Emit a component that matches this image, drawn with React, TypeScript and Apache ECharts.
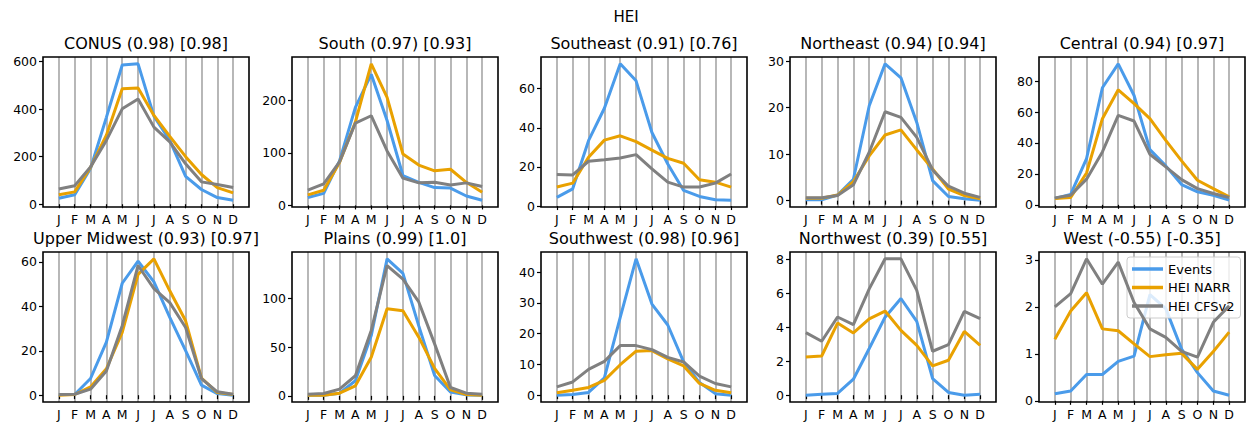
import React, { useEffect, useRef } from "react";
import * as echarts from "echarts";

const MONTHS = ["J", "F", "M", "A", "M", "J", "J", "A", "S", "O", "N", "D"];
const TITLES = [
  "CONUS (0.98) [0.98]",
  "South (0.97) [0.93]",
  "Southeast (0.91) [0.76]",
  "Northeast (0.94) [0.94]",
  "Central (0.94) [0.97]",
  "Upper Midwest (0.93) [0.97]",
  "Plains (0.99) [1.0]",
  "Southwest (0.98) [0.96]",
  "Northwest (0.39) [0.55]",
  "West (-0.55) [-0.35]",
];
const SERIES_NAMES = ["Events", "HEI NARR", "HEI CFSv2"];
const COLORS = ["#4a9bea", "#e9a100", "#808080"];

const conusEvents = [25, 40, 150, 365, 585, 590, 370, 268, 117, 62, 28, 17];
const conusNarr = [40, 52, 155, 290, 485, 488, 373, 285, 200, 125, 70, 48];
const conusCfs = [64, 78, 157, 268, 401, 442, 324, 262, 170, 94, 83, 70];

const southEvents = [15, 23, 85, 187, 250, 162, 57, 44, 34, 33, 18, 10];
const southNarr = [20, 29, 82, 159, 270, 206, 98, 77, 66, 69, 44, 25];
const southCfs = [29, 41, 83, 157, 171, 104, 52, 43, 44, 39, 43, 36];

const southeastEvents = [4.4, 8.8, 33.4, 50, 72.7, 64, 37.6, 21.5, 8, 4.9, 3.2, 3];
const southeastNarr = [9.7, 11.7, 24.9, 33.7, 35.9, 32.9, 28.6, 24.4, 21.9, 13.4, 12.2, 9.7];
const southeastCfs = [16.1, 15.9, 22.9, 23.7, 24.6, 26.3, 19, 12.2, 9.7, 9.7, 11.7, 16.4];

const northeastEvents = [0.2, 0.2, 1.2, 4.6, 20.4, 29.4, 26.4, 16.8, 4.3, 0.9, 0.4, 0.1];
const northeastNarr = [0.5, 0.5, 1.2, 4.1, 9.6, 14.1, 15.2, 10.9, 6.8, 2.5, 1.1, 0.4];
const northeastCfs = [0.6, 0.6, 1.1, 3.4, 10.4, 19.1, 17.9, 13.6, 6.6, 3.1, 1.6, 0.7];

const centralEvents = [4.1, 6.7, 29.9, 75.7, 91.2, 70.7, 35.7, 25.2, 13.1, 8.4, 6.2, 3];
const centralNarr = [4.1, 4.7, 20.6, 55.7, 74.4, 65.4, 55.7, 41.7, 28.4, 15.9, 10.5, 5.2];
const centralCfs = [4.5, 6.2, 16.6, 34.2, 57.8, 54.2, 32.7, 24.5, 16.3, 10.5, 7.3, 4.7];

const upperMidwestEvents = [0.3, 0.3, 7.5, 23.9, 50.4, 60.4, 51, 35, 20.1, 4.5, 0.7, 0];
const upperMidwestNarr = [0, 0.3, 3.7, 11.9, 28.3, 54.4, 61.4, 47, 33.5, 7.7, 1.2, 0.3];
const upperMidwestCfs = [0.3, 0.4, 2.7, 10.9, 31.3, 58.4, 48, 41.7, 30.5, 7.5, 1.5, 0.4];

const plainsEvents = [0.7, 0.7, 2.8, 15.5, 62, 141, 126, 72, 21, 4, 1, 0.7];
const plainsNarr = [0.7, 0.7, 2.8, 10.3, 39.7, 89.7, 87.6, 60.4, 28.3, 6.2, 1.4, 0.7];
const plainsCfs = [1.7, 2.4, 6.9, 20.7, 67.3, 133.9, 120, 96.6, 53.5, 8.6, 2.8, 1.7];

const southwestEvents = [0, 0.2, 0.9, 5.6, 25.3, 44.3, 29.6, 22.8, 10.8, 4.1, 0.5, 0];
const southwestNarr = [0.8, 1.6, 2.5, 4.8, 9.9, 14.3, 14.5, 11.8, 9.5, 3.8, 1.6, 0.8];
const southwestCfs = [2.7, 4.3, 8.4, 11, 16.1, 16.1, 14.8, 12.3, 10.8, 6.2, 3.8, 2.7];

const northwestEvents = [0, 0.06, 0.1, 0.94, 2.75, 4.6, 5.7, 4.35, 0.98, 0.16, 0, 0.06];
const northwestNarr = [2.25, 2.31, 4.25, 3.67, 4.5, 4.96, 3.82, 2.94, 1.73, 2.06, 3.76, 2.94];
const northwestCfs = [3.69, 3.18, 4.61, 4.16, 6.27, 8.04, 8.04, 6.18, 2.59, 2.98, 4.94, 4.51];

const westEvents = [0.15, 0.21, 0.56, 0.56, 0.84, 0.95, 2.26, 1.96, 1.1, 0.6, 0.21, 0.12];
const westNarr = [1.31, 1.91, 2.3, 1.53, 1.49, 1.21, 0.94, 0.98, 1.01, 0.67, 1.05, 1.46];
const westCfs = [2.0, 2.28, 3.02, 2.48, 2.95, 2.09, 1.53, 1.35, 1.05, 0.93, 1.67, 2.02];

const Y_TICKS = [
  [0, 200, 400, 600],
  [0, 100, 200],
  [0, 20, 40, 60],
  [0, 10, 20, 30],
  [0, 20, 40, 60, 80],
  [0, 20, 40, 60],
  [0, 50, 100],
  [0, 10, 20, 30, 40],
  [0, 2, 4, 6, 8],
  [0, 1, 2, 3],
];

const PANELS = [
  [conusEvents, conusNarr, conusCfs],
  [southEvents, southNarr, southCfs],
  [southeastEvents, southeastNarr, southeastCfs],
  [northeastEvents, northeastNarr, northeastCfs],
  [centralEvents, centralNarr, centralCfs],
  [upperMidwestEvents, upperMidwestNarr, upperMidwestCfs],
  [plainsEvents, plainsNarr, plainsCfs],
  [southwestEvents, southwestNarr, southwestCfs],
  [northwestEvents, northwestNarr, northwestCfs],
  [westEvents, westNarr, westCfs],
];

const FONT = "DejaVu Sans";
const COL_LEFTS = [43, 292, 541, 790, 1039];
const ROW_TOPS = [57, 252];
const PW = 206;
const PH = 150;

export default function App() {
  const ref = useRef<HTMLDivElement>(null);
  useEffect(() => {
    document.body.style.margin = "0";
    const chart = echarts.init(ref.current!, null, { renderer: "svg" });
    const grids: any[] = [];
    const xAxes: any[] = [];
    const yAxes: any[] = [];
    const series: any[] = [];
    const graphics: any[] = [];
    PANELS.forEach((panel, i) => {
      const col = i % 5;
      const row = Math.floor(i / 5);
      const left = COL_LEFTS[col];
      const top = ROW_TOPS[row];
      grids.push({
        left,
        top,
        width: PW,
        height: PH,
        show: true,
        borderColor: "#000",
        borderWidth: 1.6,
        backgroundColor: "transparent",
        z: 3,
      });
      const all = panel.flat();
      const dmin = Math.min(...all);
      const dmax = Math.max(...all);
      const pad = (dmax - dmin) * 0.05;
      xAxes.push({
        type: "value",
        gridIndex: i,
        min: 0,
        max: 13,
        interval: 1,
        axisLine: { show: false },
        axisTick: {
          show: true,
          length: 4,
          customValues: [1, 2, 3, 4, 5, 6, 7, 8, 9, 10, 11, 12],
          lineStyle: { color: "#000", width: 1.2 },
        },
        axisLabel: {
          show: true,
          customValues: [1, 2, 3, 4, 5, 6, 7, 8, 9, 10, 11, 12],
          formatter: (v: number) => MONTHS[v - 1] ?? "",
          fontFamily: FONT,
          fontSize: 12.5,
          color: "#000",
          margin: 6,
        },
        splitLine: { show: true, lineStyle: { color: "#b0b0b0", width: 1.8 } },
      });
      yAxes.push({
        type: "value",
        gridIndex: i,
        min: dmin - pad,
        max: dmax + pad,
        axisLine: { show: false },
        axisTick: {
          show: true,
          length: 4,
          customValues: Y_TICKS[i],
          lineStyle: { color: "#000", width: 1.2 },
        },
        axisLabel: {
          show: true,
          customValues: Y_TICKS[i],
          fontFamily: FONT,
          fontSize: 12.5,
          color: "#000",
          margin: 6,
        },
        splitLine: { show: false },
      });
      panel.forEach((vals, k) => {
        series.push({
          type: "line",
          name: SERIES_NAMES[k],
          xAxisIndex: i,
          yAxisIndex: i,
          data: vals.map((v, m) => [m + 1, v]),
          symbol: "none",
          lineStyle: { color: COLORS[k], width: 3 },
          itemStyle: { color: COLORS[k] },
          z: 2 + k,
        });
      });
      graphics.push({
        type: "text",
        x: left + PW / 2,
        y: top - 14,
        style: {
          text: TITLES[i],
          fontFamily: FONT,
          fontSize: 16,
          fill: "#000",
          align: "center",
          verticalAlign: "middle",
        },
      });
    });
    graphics.push({
      type: "text",
      x: 626,
      y: 17,
      style: {
        text: "HEI",
        fontFamily: FONT,
        fontSize: 15,
        fill: "#000",
        align: "center",
        verticalAlign: "middle",
      },
    });
    chart.setOption({
      animation: false,
      grid: grids,
      xAxis: xAxes,
      yAxis: yAxes,
      series,
      graphic: graphics,
      legend: {
        data: SERIES_NAMES,
        left: 1127,
        top: 257,
        orient: "vertical",
        icon: "rect",
        itemWidth: 31,
        itemHeight: 3.5,
        itemGap: 4.5,
        padding: [5, 6, 5, 5],
        backgroundColor: "rgba(255,255,255,0.8)",
        borderColor: "#cccccc",
        borderWidth: 1,
        borderRadius: 3,
        textStyle: { fontFamily: FONT, fontSize: 13, color: "#000", lineHeight: 14 },
        selectedMode: false,
      },
    });
    return () => chart.dispose();
  }, []);
  return <div ref={ref} style={{ width: 1249, height: 423 }} />;
}
